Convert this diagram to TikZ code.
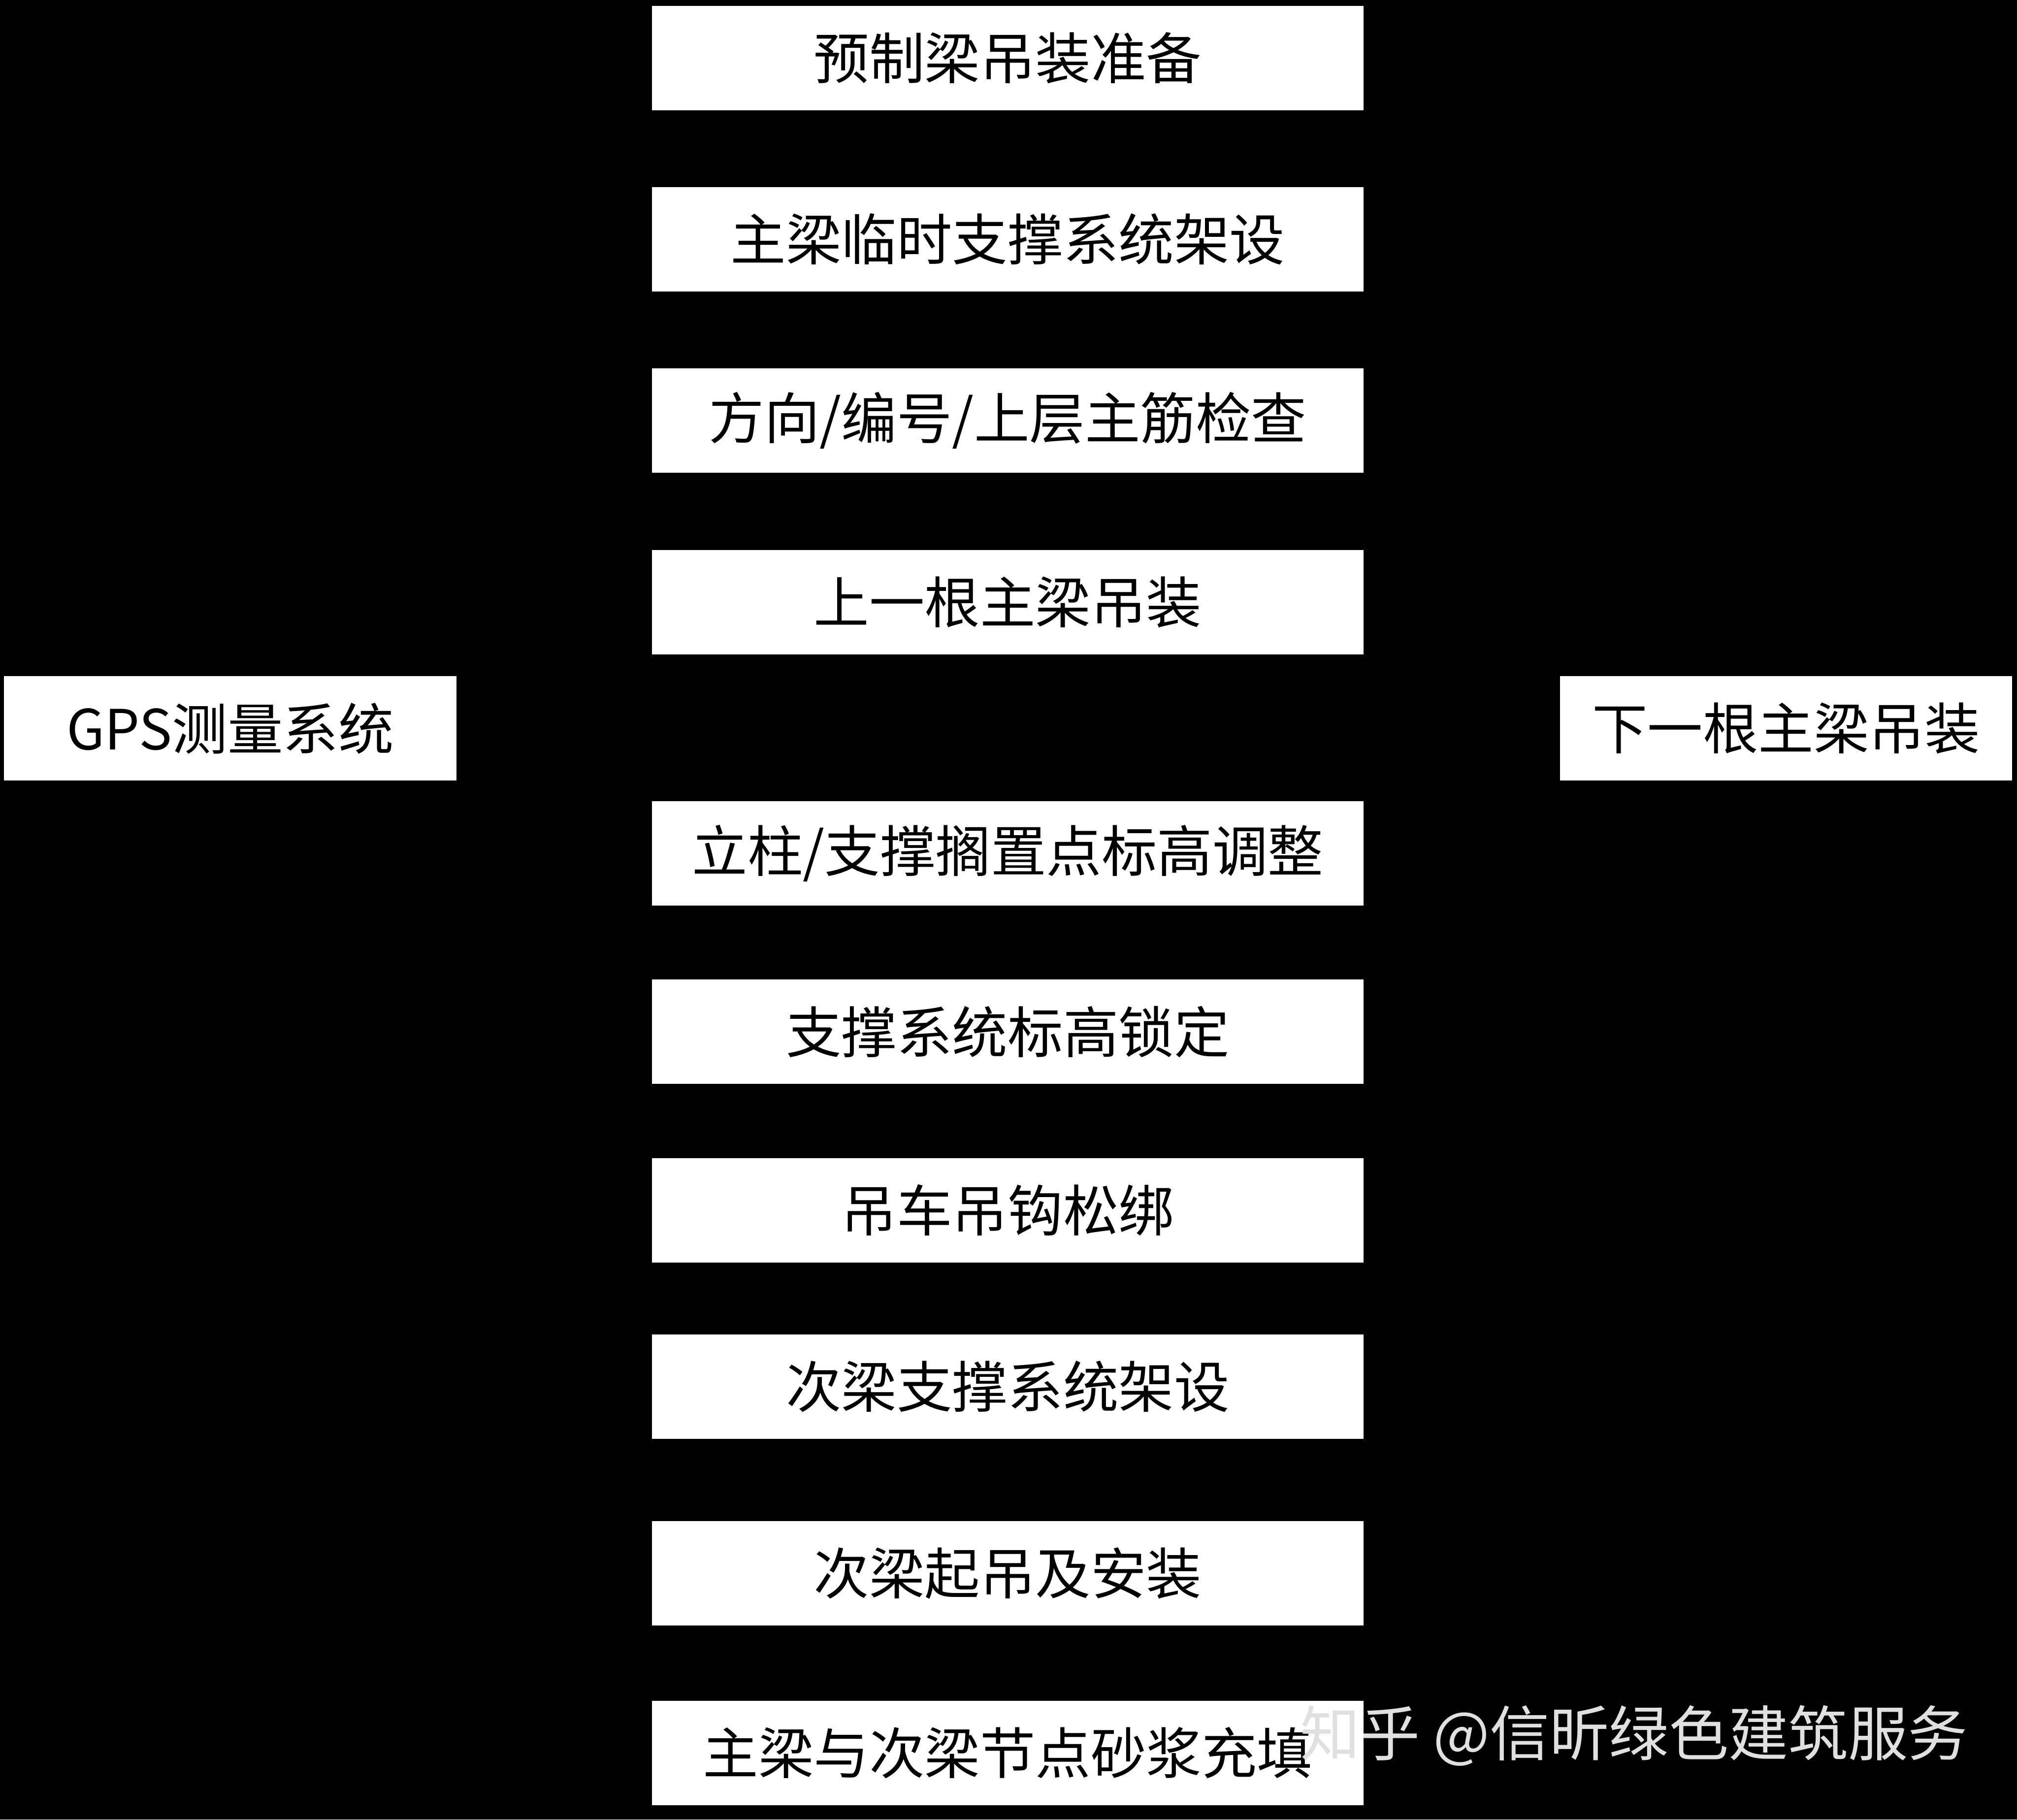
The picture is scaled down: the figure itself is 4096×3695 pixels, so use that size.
\documentclass[tikz,border=0pt]{standalone}
\usepackage{fontspec}
\newfontfamily\cjk{Noto Sans CJK SC}
\begin{document}
\begin{tikzpicture}[x=0.01cm,y=-0.01cm,
  box/.style={draw=black,fill=white,line width=0.5pt,inner sep=0pt,
    minimum height=2.14cm,font=\cjk\fontsize{32}{36}\selectfont,text=black},
  mid/.style={box,minimum width=14.45cm},
  side/.style={box,minimum width=9.2cm}]
\fill[black] (0,0) rectangle (4096,3695);
\useasboundingbox (0,0) rectangle (4096,3695);
\node[mid] (b1) at (2046.5,118) {预制梁吊装准备};
\node[mid] (b2) at (2046.5,486) {主梁临时支撑系统架设};
\node[mid] (b3) at (2046.5,854) {方向/编号/上层主筋检查};
\node[mid] (b4) at (2046.5,1223) {上一根主梁吊装};
\node[mid] (b5) at (2046.5,1733) {立柱/支撑搁置点标高调整};
\node[mid] (b6) at (2046.5,2095) {支撑系统标高锁定};
\node[mid] (b7) at (2046.5,2458) {吊车吊钩松绑};
\node[mid] (b8) at (2046.5,2816) {次梁支撑系统架设};
\node[mid] (b9) at (2046.5,3195) {次梁起吊及安装};
\node[mid] (b10) at (2046.5,3560) {主梁与次梁节点砂浆充填};
\node[side] (gps) at (467.5,1479) {GPS测量系统};
\node[side] (next) at (3627,1479) {下一根主梁吊装};
\node[anchor=west,inner sep=0pt,text=white!88!black,font=\cjk\fontsize{34.5}{38}\selectfont] (wm) at (2640,3525) {知乎 @信昕绿色建筑服务};
\end{tikzpicture}
\end{document}
